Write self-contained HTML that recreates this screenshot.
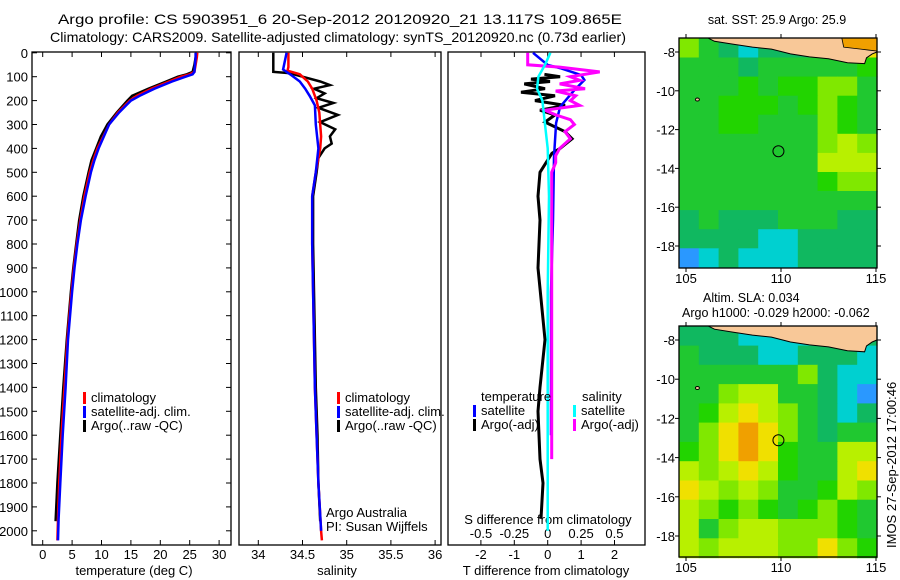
<!DOCTYPE html>
<html><head><meta charset="utf-8">
<style>
html,body{margin:0;padding:0;background:#fff;}
svg{display:block;font-family:"Liberation Sans",sans-serif;}
</style></head>
<body>
<svg id="fig" width="900" height="580" viewBox="0 0 900 580">
<text x="58" y="24" font-size="14" textLength="564" lengthAdjust="spacingAndGlyphs">Argo profile: CS 5903951_6 20-Sep-2012 20120920_21 13.117S 109.865E</text>
<text x="50" y="42" font-size="14" textLength="576" lengthAdjust="spacingAndGlyphs">Climatology: CARS2009. Satellite-adjusted climatology: synTS_20120920.nc (0.73d earlier)</text>
<g id="g1"></g>
<g id="g2"></g>
<g id="g3"></g>
<g id="g4"></g>
<g id="g5"></g>
<text transform="translate(896,548) rotate(-90)" font-size="13">IMOS 27-Sep-2012 17:00:46</text>
</svg>
<script>
// ---------- data ----------
const depthTicks = [0,100,200,300,400,500,600,700,800,900,1000,1100,1200,1300,1400,1500,1600,1700,1800,1900,2000];
const tempTicks = [0,5,10,15,20,25,30];
const salTicks = [34,34.5,35,35.5,36];
const tDiffTicks = [-2,-1,0,1,2];
const sDiffTicks = [-0.5,-0.25,0,0.25,0.5];
const depthT = [0,20,50,80,90,100,120,150,180,200,250,300,350,400,450,500,600,700,800,900,1000,1200,1400,1600,1800,1950,2040];
const climT = [26.3,26.2,26.0,25.8,25,23.5,21.5,18.5,16,14.8,12.8,11.3,10.3,9.3,8.6,8.0,7.1,6.4,5.8,5.3,4.9,4.2,3.7,3.2,2.8,2.6,2.5];
const satT  = [26.0,26.0,25.9,25.8,25.5,24.3,22,19,16.5,15,13,11.3,10.4,9.5,8.8,8.2,7.3,6.5,5.9,5.4,5.0,4.3,3.9,3.4,3.0,2.7,2.6];
const depthArgoT = [0,20,50,80,90,100,120,150,180,200,250,300,350,400,450,500,600,700,800,900,1000,1200,1400,1600,1800,1960];
const argoT = [26.1,26,25.8,25.5,24.5,23,21,18,15.2,14.4,12.6,11,9.9,9.1,8.3,7.8,6.9,6.2,5.7,5.2,4.8,4.1,3.5,3.0,2.5,2.2];
const depthClimS = [0,60,75,90,120,150,200,250,350,400,500,600,800,1000,1200,1400,1600,1800,2000,2040];
const climS = [34.34,34.34,34.33,34.47,34.56,34.61,34.66,34.69,34.71,34.70,34.65,34.61,34.61,34.62,34.63,34.64,34.66,34.68,34.71,34.72];
const depthSatS = [0,70,90,120,150,180,220,300,400,500,600,800,1000,1200,1400,1600,1800,2000];
const satS = [34.32,34.28,34.36,34.47,34.53,34.58,34.64,34.65,34.68,34.65,34.61,34.61,34.62,34.63,34.64,34.66,34.68,34.71];
const depthArgoS = [0,50,80,85,100,120,135,150,170,190,210,230,260,290,320,350,380,400,440,500,600,800,1000,1200,1400,1600,1800,1960];
const argoS = [34.17,34.17,34.17,34.35,34.5,34.70,34.81,34.63,34.75,34.66,34.85,34.68,34.90,34.70,34.87,34.81,34.83,34.75,34.68,34.66,34.62,34.62,34.63,34.64,34.65,34.67,34.68,34.70];
const depthSatTd = [0,51,64,93,114,156,226,294,436,700,1000,1300,1600];
const satTd = [-0.44,0,0.37,1.0,1.1,0.8,0.37,0.25,0.19,0.16,0.1,0.1,0.1];
const depthArgoTd = [90,100,110,120,130,150,165,180,200,220,240,260,290,330,360,400,420,500,600,700,900,1200,1400,1500,1700,1800,1950];
const argoTd = [-0.1,0.37,-0.5,0.07,-0.7,-0.08,-0.8,0.22,-0.38,0.52,-0.23,0.22,-0.08,0.52,0.73,0.37,0.13,-0.23,-0.29,-0.23,-0.29,-0.08,-0.23,-0.29,-0.23,-0.14,-0.2];
const depthArgoSd = [0,50,60,80,100,115,130,150,160,180,200,220,240,260,280,300,330,360,400,430,460,500,800,1200,1700];
const argoSd = [-0.15,-0.15,0.09,0.39,0.17,0.24,0.09,0.28,0.06,0.21,0.17,0.24,-0.02,0.06,0.17,0.2,0.13,0.17,0.09,0.06,0.06,0.03,0.03,0.03,0.03];
const depthSatSd = [0,50,100,150,200,300,400,600,1000,1500,2000];
const satSd = [0.02,-0.02,-0.07,-0.08,-0.04,-0.02,0,0.01,0,0,0];
const lonTicks = [105,110,115];
const latTicks = [-8,-10,-12,-14,-16,-18];
const palette = ['#2a98ff','#00d0d0','#10b860','#20c830','#22d400','#80e800','#b8f000','#f0e000','#f0a000','#e06000'];
const sstGrid = [
[5,3,2,1,2,2,2,2,8,7],[3,3,3,2,3,3,3,3,3,4],[3,3,3,4,3,4,4,5,5,3],[3,3,4,4,4,3,4,5,4,3],
[3,3,4,4,3,3,3,5,4,3],[3,3,3,3,3,3,3,5,6,5],[3,3,3,3,3,3,3,6,6,6],[3,3,3,3,3,3,3,4,5,5],
[3,3,3,3,3,3,3,3,3,3],[2,3,2,2,2,3,3,3,2,2],[2,2,2,2,1,1,2,2,2,2],[0,1,2,1,1,1,2,2,2,2]];
const slaGrid = [
[2,2,2,1,1,1,1,1,2,2],[3,2,2,2,1,1,2,2,2,1],[3,3,3,3,3,3,5,2,1,1],[3,3,5,6,6,3,3,2,1,0],
[3,4,6,7,6,5,3,2,1,2],[3,5,7,8,7,5,3,2,3,3],[4,5,7,8,7,4,3,3,6,6],[6,5,6,7,6,4,3,3,6,7],
[7,6,5,6,5,3,3,4,6,5],[6,5,4,5,4,3,4,5,4,3],[6,3,5,6,6,5,5,5,4,3],[6,5,6,6,6,5,5,7,5,4]];
const coastLon = [106.2,106.5,107.5,108.5,109.5,110.5,111.5,112.5,113.5,114.4,114.5,114.8,115.05];
const coastLat = [-7.3,-7.45,-7.6,-7.75,-7.85,-8.1,-8.25,-8.35,-8.55,-8.6,-8.3,-8.1,-8.0];
const argoLon = 109.865, argoLat = -13.117;

// ---------- helpers ----------
const NS='http://www.w3.org/2000/svg';
function mk(parent,tag,attrs,txt){const e=document.createElementNS(NS,tag);for(const k in attrs)e.setAttribute(k,attrs[k]);if(txt!==undefined)e.textContent=txt;parent.appendChild(e);return e;}
const yD = d => 52.8 + d*0.239;
const PT=52, PB=545;

function frame(g,x0,x1){
  const r=mk(g,'rect',{x:x0,y:PT,width:x1-x0,height:PB-PT,fill:'none',stroke:'#000','stroke-width':1.3});
  
  
}
function xticks(g,vals,sx,labY,top){
  vals.forEach(v=>{
    const x=sx(v);
    mk(g,'line',{x1:x,x2:x,y1:PB,y2:PB-5,stroke:'#000'});
    if(top) mk(g,'line',{x1:x,x2:x,y1:PT,y2:PT+5,stroke:'#000'});
    const t=mk(g,'text',{x:x,y:labY,'font-size':13,'text-anchor':'middle'},String(v));
    
    
  });
}
function line(g,ds,vs,sx,color,name,w){
  const pts=ds.map((d,i)=>sx(vs[i]).toFixed(1)+','+yD(d).toFixed(1)).join(' ');
  const p=mk(g,'polyline',{points:pts,fill:'none',stroke:color,'stroke-width':w||2.5,'stroke-linejoin':'miter'});
  
  
}
function legend(g,x,y,items){
  items.forEach((it,i)=>{
    mk(g,'rect',{x:x,y:y+i*14-10,width:3,height:12,fill:it[0]});
    const t=mk(g,'text',{x:x+8,y:y+i*14,'font-size':13},it[1]);
    
    
  });
}

// ---------- panel 1: temperature ----------
const g1=document.getElementById('g1');
const sxT=v=>42.7+v*5.88;
frame(g1,32,231);
depthTicks.forEach(d=>{
  const y=yD(d);
  mk(g1,'line',{x1:32,x2:37,y1:y,y2:y,stroke:'#000'});
  mk(g1,'line',{x1:231,x2:226,y1:y,y2:y,stroke:'#000'});
  const t=mk(g1,'text',{x:28,y:y+5,'font-size':13,'text-anchor':'end'},String(d));
  
  
});
xticks(g1,tempTicks,sxT,559,true);
const xt1=mk(g1,'text',{x:134,y:575,'font-size':13,'text-anchor':'middle'},'temperature (deg C)');


line(g1,depthArgoT,argoT,sxT,'#000','argo-temp-line');
line(g1,depthT,climT,sxT,'#f00','climatology-temp-line');
line(g1,depthT,satT,sxT,'#00f','satellite-temp-line');
legend(g1,83,402,[['#f00','climatology'],['#00f','satellite-adj. clim.'],['#000','Argo(..raw -QC)']]);

// ---------- panel 2: salinity ----------
const g2=document.getElementById('g2');
const sxS=v=>258.3+(v-34)*88.4;
frame(g2,239,441);
xticks(g2,salTicks,sxS,559,true);
const xt2=mk(g2,'text',{x:337,y:575,'font-size':13,'text-anchor':'middle'},'salinity');


line(g2,depthArgoS,argoS,sxS,'#000','argo-sal-line');
line(g2,depthClimS,climS,sxS,'#f00','climatology-sal-line');
line(g2,depthSatS,satS,sxS,'#00f','satellite-sal-line');
legend(g2,337,402,[['#f00','climatology'],['#00f','satellite-adj. clim.'],['#000','Argo(..raw -QC)']]);
const a1=mk(g2,'text',{x:326,y:517,'font-size':13},'Argo Australia');


const a2=mk(g2,'text',{x:326,y:531,'font-size':13},'PI: Susan Wijffels');



// ---------- panel 3: differences ----------
const g3=document.getElementById('g3');
const sxTd=v=>547.7+v*33.4;
const sxSd=v=>547.7+v*133.4;
frame(g3,448,645);
xticks(g3,tDiffTicks,sxTd,559,false);
sDiffTicks.forEach(v=>{
  const x=sxSd(v);
  mk(g3,'line',{x1:x,x2:x,y1:PT,y2:PT+5,stroke:'#000'});
  const t=mk(g3,'text',{x:x,y:538,'font-size':13,'text-anchor':'middle'},String(v));
  
  
});
const st=mk(g3,'text',{x:548,y:524,'font-size':13,'text-anchor':'middle'},'S difference from climatology');


const tt=mk(g3,'text',{x:546,y:575,'font-size':13,'text-anchor':'middle'},'T difference from climatology');


line(g3,depthArgoTd,argoTd,sxTd,'#000','argo-tdiff-line',3);
line(g3,depthSatTd,satTd,sxTd,'#00f','satellite-tdiff-line');
line(g3,depthArgoSd,argoSd,sxSd,'#f0f','argo-sdiff-line',3);
line(g3,depthSatSd,satSd,sxSd,'#0ff','satellite-sdiff-line');
const lt=mk(g3,'text',{x:481,y:401,'font-size':13},'temperature');


legend(g3,473,415,[['#00f','satellite'],['#000','Argo(-adj)']]);
const ls=mk(g3,'text',{x:582,y:401,'font-size':13},'salinity');


legend(g3,573,415,[['#0ff','satellite'],['#f0f','Argo(-adj)']]);

// ---------- maps ----------
function drawMap(g,grid,top,bottom,latScale,y8,title1,title2,orange){
  const mx=lon=>686+(lon-105)*19;
  const my=lat=>y8+(-8-lat)*latScale;
  const L=679,R=877;
  const nr=grid.length,nc=grid[0].length;
  const lon0=104.63,lon1=115.05,lat0=-7.3,lat1=-19.1;
  const dlon=(lon1-lon0)/nc,dlat=(lat0-lat1)/nr;
  grid.forEach((row,r)=>row.forEach((v,c)=>{
    const x=mx(lon0+c*dlon),y=my(lat0-r*dlat);
    const cell=mk(g,'rect',{x:x.toFixed(1),y:y.toFixed(1),width:(mx(lon0+(c+1)*dlon)-x+0.6).toFixed(1),height:(my(lat0-(r+1)*dlat)-y+0.6).toFixed(1),fill:palette[v]});
    
    
  }));
  const pts=coastLon.map((lo,i)=>mx(lo).toFixed(1)+','+my(coastLat[i]).toFixed(1)).join(' ')+' '+R+','+top+' '+mx(106.2).toFixed(1)+','+top;
  const land=mk(g,'polygon',{points:pts,fill:'#f8c898',stroke:'#000','stroke-width':1});
  
  
  if(orange){
    const o=mk(g,'polygon',{points:`${mx(113.2)},${top} ${mx(113.3)},${my(-7.75)} ${mx(114.2)},${my(-7.85)} ${mx(114.6)},${my(-7.9)} ${R},${my(-7.95)} ${R},${top}`,fill:'#f0a000',stroke:'#000','stroke-width':0.8});
    
    
  }
  const isl=mk(g,'ellipse',{cx:mx(105.6),cy:my(-10.45),rx:2,ry:1.5,fill:'#f8c898',stroke:'#000'});
  
  
  const c=mk(g,'circle',{cx:mx(argoLon),cy:my(argoLat),r:5.5,fill:'none',stroke:'#000','stroke-width':1});
  
  
  const f=mk(g,'rect',{x:L,y:top,width:R-L,height:bottom-top,fill:'none',stroke:'#000','stroke-width':1.3});
  
  
  latTicks.forEach(lat=>{
    const y=my(lat);
    mk(g,'line',{x1:L,x2:L-4,y1:y,y2:y,stroke:'#000'});
    mk(g,'line',{x1:R,x2:R+4,y1:y,y2:y,stroke:'#000'});
    const t=mk(g,'text',{x:675,y:y+5,'font-size':13,'text-anchor':'end'},String(lat));
    
    
  });
  lonTicks.forEach(lon=>{
    const x=mx(lon);
    mk(g,'line',{x1:x,x2:x,y1:top,y2:top-4,stroke:'#000'});
    mk(g,'line',{x1:x,x2:x,y1:bottom,y2:bottom+4,stroke:'#000'});
    const t=mk(g,'text',{x:x,y:bottom+15,'font-size':13,'text-anchor':'middle'},String(lon));
    
    
  });
  if(title1){const t=mk(g,'text',title1.a,title1.s);}
  if(title2){const t=mk(g,'text',title2.a,title2.s);}
}
drawMap(document.getElementById('g4'),sstGrid,38,268,19.4,52,
  {a:{x:777,y:24,'font-size':12.5,'text-anchor':'middle'},s:'sat. SST: 25.9 Argo: 25.9'},null,true);
drawMap(document.getElementById('g5'),slaGrid,326,557,19.6,340,
  {a:{x:703,y:302,'font-size':12.5},s:'Altim. SLA: 0.034'},
  {a:{x:682,y:317,'font-size':12.5},s:'Argo h1000: -0.029 h2000: -0.062'},false);
</script>
</body></html>
